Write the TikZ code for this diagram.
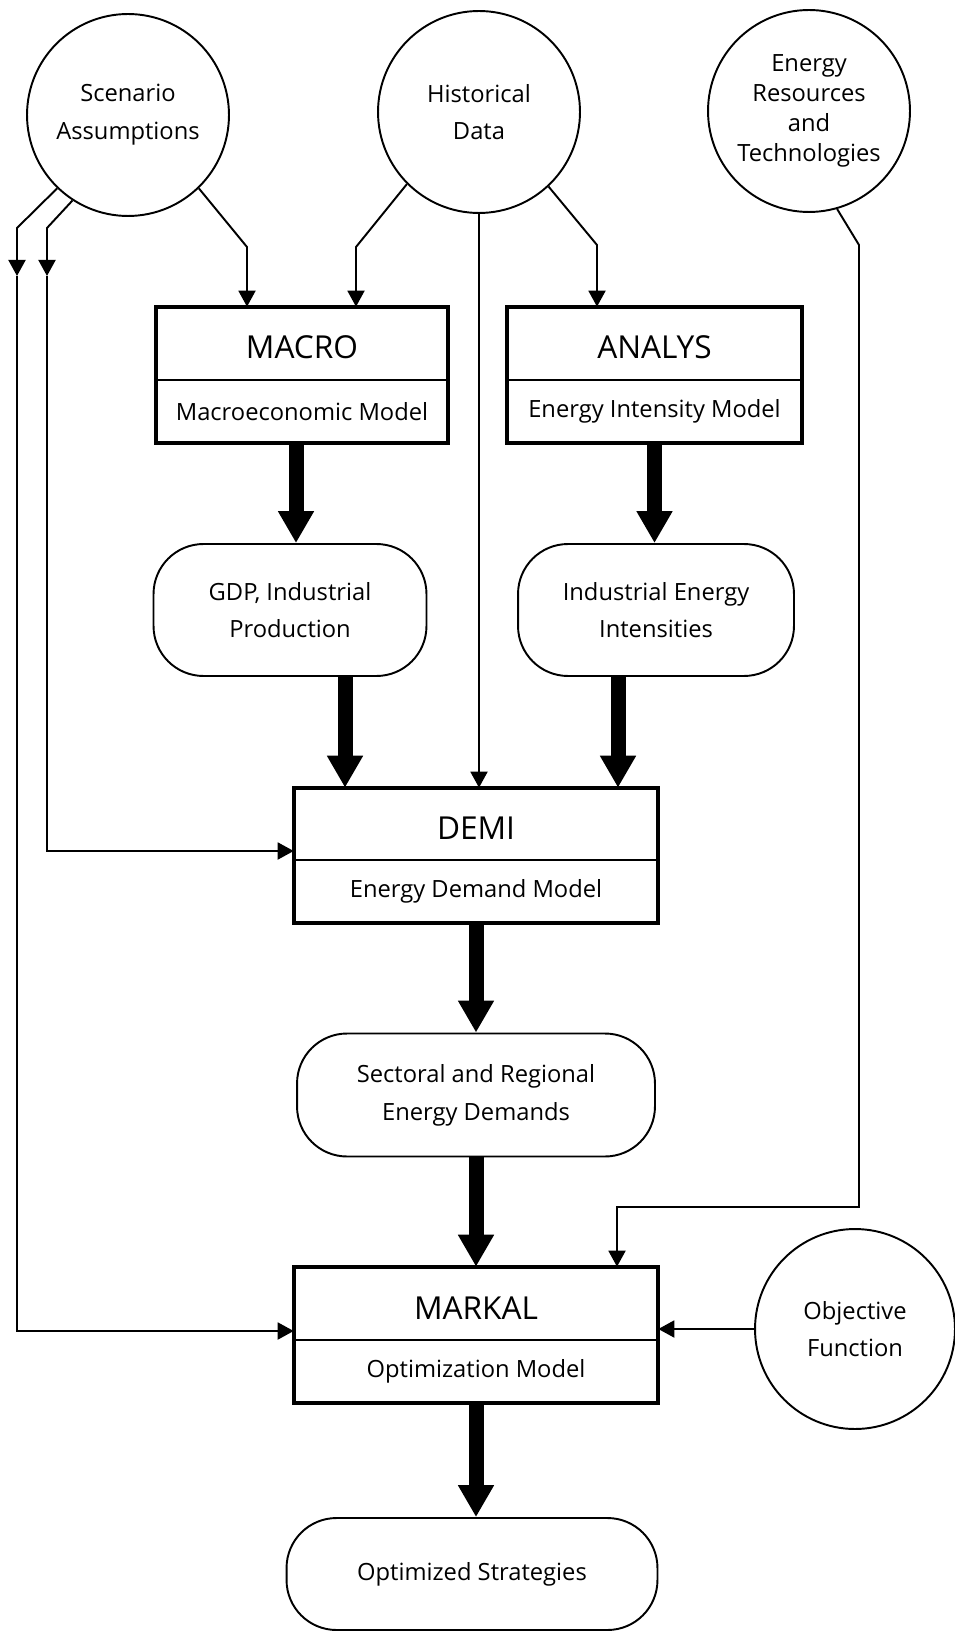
\documentclass[tikz,border=0pt]{standalone}
\usepackage{fontspec}
\setmainfont{Open Sans}
\usetikzlibrary{positioning,arrows.meta,calc}

\tikzset{
  source/.style={draw, circle, line width=1.1pt, minimum size=4.04cm, inner sep=0pt, align=center, font=\fontsize{13.5}{21.5}\selectfont},
  modtitle/.style={minimum height=1.46cm, inner sep=0pt, text height=0.62cm, font=\fontsize{18}{20}\selectfont},
  modsub/.style={minimum height=1.24cm, inner sep=0pt, font=\fontsize{13.5}{16}\selectfont},
  result/.style={draw, rounded corners=1cm, line width=1.1pt, align=center, inner sep=0pt, font=\fontsize{13.5}{21.5}\selectfont},
  boxline/.style={line width=2.3pt},
  feed/.style={line width=1.1pt},
  flow/.style={line width=1.1pt, -{Triangle[width=0.34cm,length=0.32cm]}},
  bigflow/.style={line width=0.3cm, -{Triangle[width=0.68cm,length=0.64cm]}}
}

\begin{document}
\begin{tikzpicture}[x=0.02cm, y=-0.02cm]
\useasboundingbox (0,0) rectangle (954,1631);

% input circles
\node[source] (scen) at (128,115) {Scenario\\Assumptions};
\node[source] (hist) at (479,112) {Historical\\Data};
\node[source, font=\fontsize{13.5}{17}\selectfont] (enres) at (809,111) {Energy\\Resources\\and\\Technologies};
\node[source, minimum size=4cm] (obj) at (855,1329) {Objective\\Function};

% models
\node[modtitle, minimum width=5.84cm] (macro) at (302,343.5) {MACRO};
\node[modsub, minimum width=5.84cm, below=0pt of macro] (macrosub) {Macroeconomic Model};
\node[modtitle, minimum width=5.9cm] (analys) at (654.5,343.5) {ANALYS};
\node[modsub, minimum width=5.9cm, below=0pt of analys] (analyssub) {Energy Intensity Model};
\node[modtitle, minimum width=7.28cm, minimum height=1.44cm] (demi) at (476,824) {DEMI};
\node[modsub, minimum width=7.28cm, below=0pt of demi] (demisub) {Energy Demand Model};
\node[modtitle, minimum width=7.28cm] (markal) at (476,1303.5) {MARKAL};
\node[modsub, minimum width=7.28cm, below=0pt of markal] (markalsub) {Optimization Model};

\foreach \m in {macro,analys,demi,markal} {
  \draw[boxline] (\m.north west) rectangle (\m sub.south east);
  \draw[feed] (\m.south west) -- (\m.south east);
}

% intermediate results
\node[result, minimum width=5.46cm, minimum height=2.64cm] (gdp) at (290,610) {GDP, Industrial\\Production};
\node[result, minimum width=5.52cm, minimum height=2.64cm] (intens) at (656,610) {Industrial Energy\\Intensities};
\node[result, minimum width=7.16cm, minimum height=2.46cm] (demand) at (476,1095) {Sectoral and Regional\\Energy Demands};
\node[result, minimum width=7.42cm, minimum height=2.24cm] (strat) at (472,1574) {Optimized Strategies};

% main flow
\coordinate (t1) at ($(macrosub.south)+(-6,0)$);
\coordinate (t2) at ($(gdp.south)+(55,0)$);
\coordinate (t3) at ($(intens.south)+(-38,0)$);
\draw[bigflow] (t1) -- (t1 |- gdp.north);
\draw[bigflow] (analyssub.south) -- (analyssub.south |- intens.north);
\draw[bigflow] (t2) -- (t2 |- demi.north);
\draw[bigflow] (t3) -- (t3 |- demi.north);
\draw[bigflow] (demisub.south) -- (demisub.south |- demand.north);
\draw[bigflow] (demand.south) -- (demand.south |- markal.north);
\draw[bigflow] (markalsub.south) -- (markalsub.south |- strat.north);

% data feeds
\coordinate (s1) at (17,228);
\coordinate (s1m) at (17,276);
\coordinate (s1e) at (17,1331);
\coordinate (s2) at (47,228);
\coordinate (s2m) at (47,276);
\coordinate (s2e) at (47,851);
\coordinate (s3) at (247,247);
\coordinate (h1) at (356,247);
\coordinate (h2) at (597,245);
\coordinate (e1) at (859,245);
\coordinate (e2) at (859,1207);
\coordinate (e3) at (617,1207);

\draw[flow] (scen.226) -- (s1) -- (s1m);
\draw[flow] (s1m) -- (s1e) -- (s1e -| markal.west);
\draw[flow] (scen.237) -- (s2) -- (s2m);
\draw[flow] (s2m) -- (s2e) -- (s2e -| demi.west);
\draw[flow] (scen.314) -- (s3) -- (s3 |- macro.north);
\draw[flow] (hist.225) -- (h1) -- (h1 |- macro.north);
\draw[flow] (hist.313) -- (h2) -- (h2 |- analys.north);
\draw[flow] (hist.south) -- (hist.south |- demi.north);
\draw[flow] (enres.286) -- (e1) -- (e2) -- (e3) -- (e3 |- markal.north);
\draw[flow] (obj.west) -- (obj.west -| markal.east);
\end{tikzpicture}
\end{document}
